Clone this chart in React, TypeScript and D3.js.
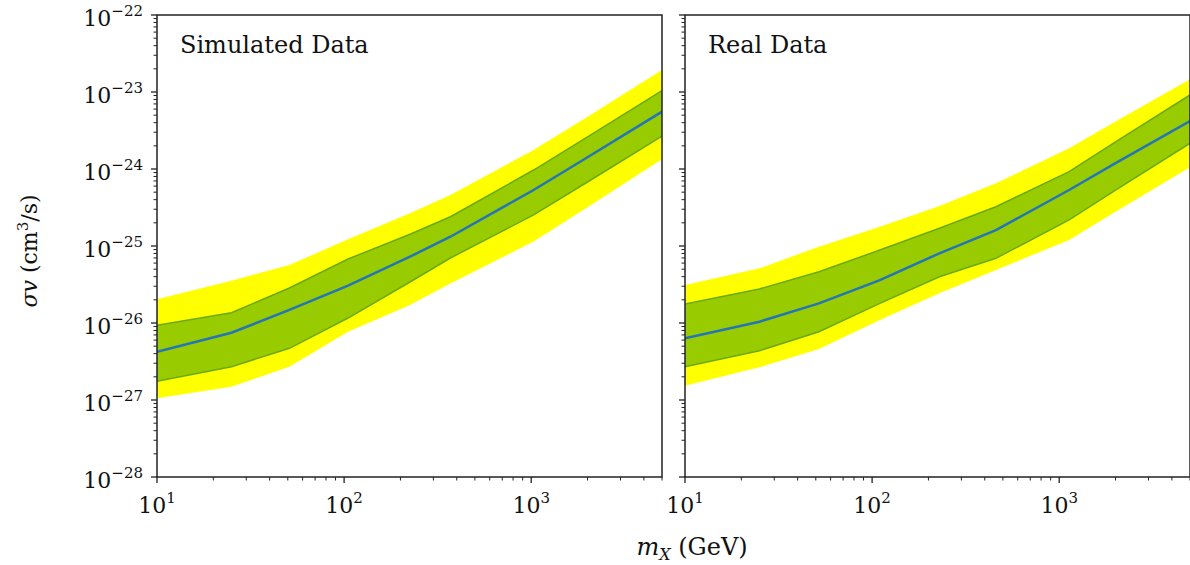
import React from "react";
import * as d3 from "d3";

// ---- data ----
const massSim = [10, 25, 51, 105, 225, 370, 1030, 2000, 5000];
const simYellowHi = [2.03e-26, 3.54e-26, 5.66e-26, 1.22e-25, 2.66e-25, 4.59e-25, 1.77e-24, 4.78e-24, 1.93e-23];
const simGreenHi = [9.33e-27, 1.36e-26, 2.85e-26, 6.78e-26, 1.42e-25, 2.4e-25, 9.7e-25, 2.61e-24, 1.04e-23];
const simMedian = [4.24e-27, 7.48e-27, 1.48e-26, 3.05e-26, 7.26e-26, 1.32e-25, 5.34e-25, 1.42e-24, 5.55e-24];
const simGreenLo = [1.75e-27, 2.71e-27, 4.69e-27, 1.16e-26, 3.41e-26, 6.98e-26, 2.53e-25, 6.78e-25, 2.68e-24];
const simYellowLo = [1.05e-27, 1.49e-27, 2.71e-27, 7.71e-27, 1.71e-26, 3.27e-26, 1.14e-25, 3.18e-25, 1.34e-24];

const massReal = [10, 25, 52, 110, 229, 459, 1130, 2000, 5000];
const realYellowHi = [3.12e-26, 5.13e-26, 9.8e-26, 1.78e-25, 3.31e-25, 6.52e-25, 1.86e-24, 4.15e-24, 1.46e-23];
const realGreenHi = [1.77e-26, 2.77e-26, 4.63e-26, 8.87e-26, 1.7e-25, 3.24e-25, 9.23e-25, 2.25e-24, 9.14e-24];
const realMedian = [6.33e-27, 1.04e-26, 1.8e-26, 3.61e-26, 8.04e-26, 1.61e-25, 5.34e-25, 1.19e-24, 4.2e-24];
const realGreenLo = [2.71e-27, 4.37e-27, 7.71e-27, 1.8e-26, 3.99e-26, 6.92e-26, 2.18e-25, 5.32e-25, 2.16e-24];
const realYellowLo = [1.53e-27, 2.66e-27, 4.59e-27, 1.09e-26, 2.43e-26, 4.88e-26, 1.2e-25, 2.79e-25, 1.05e-24];

const panelTitles = ["Simulated Data", "Real Data"];
const xMajorExps = [1, 2, 3];
const yMajorExps = [-28, -27, -26, -25, -24, -23, -22];
const xDomain = [10, 5000];
const yDomain = [1e-28, 1e-22];

// ---- layout ----
const W = 1190;
const H = 565;
const top = 15;
const bottom = 477;
const panelW = 505;
const panelLefts = [157, 685];
const FONT = "'DejaVu Serif', serif";
const YELLOW = "#ffff00";
const GREEN = "#99cc00";
const GREEN_EDGE = "#6aaa10";
const BLUE = "#2475b8";
const AXIS = "#222";

const yScale = d3.scaleLog().domain(yDomain).range([bottom, top]);

function Pow({ base, exp, ...rest }: any) {
  return (
    <text {...rest} fontFamily={FONT} fill="#111">
      <tspan fontSize={22}>{base}</tspan>
      <tspan fontSize={15} dy={-10}>{exp}</tspan>
    </text>
  );
}

function Panel({ idx, mass, yHi, gHi, med, gLo, yLo }: any) {
  const x0 = panelLefts[idx];
  const xScale = d3.scaleLog().domain(xDomain).range([x0, x0 + panelW]);
  const rows = mass.map((m: number, i: number) => ({ m, yHi: yHi[i], gHi: gHi[i], med: med[i], gLo: gLo[i], yLo: yLo[i] }));
  const areaY = d3.area<any>().x((d) => xScale(d.m)).y0((d) => yScale(d.yLo)).y1((d) => yScale(d.yHi));
  const areaG = d3.area<any>().x((d) => xScale(d.m)).y0((d) => yScale(d.gLo)).y1((d) => yScale(d.gHi));
  const lineHi = d3.line<any>().x((d) => xScale(d.m)).y((d) => yScale(d.gHi));
  const lineLo = d3.line<any>().x((d) => xScale(d.m)).y((d) => yScale(d.gLo));
  const lineMed = d3.line<any>().x((d) => xScale(d.m)).y((d) => yScale(d.med));

  const xMinor: number[] = [];
  for (let e = 1; e <= 3; e++) for (let k = 2; k <= 9; k++) {
    const v = k * Math.pow(10, e);
    if (v <= xDomain[1]) xMinor.push(v);
  }
  const yMinor: number[] = [];
  for (let e = -28; e < -22; e++) for (let k = 2; k <= 9; k++) yMinor.push(k * Math.pow(10, e));

  const clipId = `clip${idx}`;
  return (
    <g>
      <defs>
        <clipPath id={clipId}>
          <rect x={x0} y={top} width={panelW} height={bottom - top} />
        </clipPath>
      </defs>
      <g clipPath={`url(#${clipId})`}>
        <path d={areaY(rows) || ""} fill={YELLOW} />
        <path d={areaG(rows) || ""} fill={GREEN} />
        <path d={lineHi(rows) || ""} fill="none" stroke={GREEN_EDGE} strokeWidth={1.5} />
        <path d={lineLo(rows) || ""} fill="none" stroke={GREEN_EDGE} strokeWidth={1.5} />
        <path d={lineMed(rows) || ""} fill="none" stroke={BLUE} strokeWidth={2.5} />
      </g>
      {xMajorExps.map((e) => {
        const x = xScale(Math.pow(10, e));
        return (
          <g key={"xm" + e}>
            <line x1={x} x2={x} y1={bottom} y2={bottom + 6} stroke={AXIS} strokeWidth={1.3} />
            <Pow x={x} y={513} textAnchor="middle" base="10" exp={String(e)} />
          </g>
        );
      })}
      {xMinor.map((v) => (
        <line key={"xn" + v} x1={xScale(v)} x2={xScale(v)} y1={bottom} y2={bottom + 3.5} stroke={AXIS} strokeWidth={1} />
      ))}
      {yMajorExps.map((e) => {
        const y = yScale(Math.pow(10, e));
        return (
          <g key={"ym" + e}>
            <line x1={x0 - 6} x2={x0} y1={y} y2={y} stroke={AXIS} strokeWidth={1.3} />
            {idx === 0 && (
              <Pow x={143} y={y + 11} textAnchor="end" base="10" exp={"\u2212" + String(-e)} />
            )}
          </g>
        );
      })}
      {yMinor.map((v) => (
        <line key={"yn" + v} x1={x0 - 3.5} x2={x0} y1={yScale(v)} y2={yScale(v)} stroke={AXIS} strokeWidth={1} />
      ))}
      <rect x={x0} y={top} width={panelW} height={bottom - top} fill="none" stroke={AXIS} strokeWidth={1.5} />
      <text x={x0 + 23} y={53} fontFamily={FONT} fontSize={24} fill="#111">
        {panelTitles[idx]}
      </text>
    </g>
  );
}

export default function App() {
  return (
    <svg width={W} height={H} style={{ position: "absolute", left: 0, top: 0, background: "#fff" }}>
      <rect x={0} y={0} width={W} height={H} fill="#fff" />
      <Panel idx={0} mass={massSim} yHi={simYellowHi} gHi={simGreenHi} med={simMedian} gLo={simGreenLo} yLo={simYellowLo} />
      <Panel idx={1} mass={massReal} yHi={realYellowHi} gHi={realGreenHi} med={realMedian} gLo={realGreenLo} yLo={realYellowLo} />
      <text transform="translate(37,251) rotate(-90)" textAnchor="middle" fontFamily={FONT} fontSize={22} fill="#111">
        <tspan fontStyle="italic">σv</tspan>
        <tspan> (cm</tspan>
        <tspan fontSize={15} dy={-9}>3</tspan>
        <tspan dy={9}>/s)</tspan>
      </text>
      <text x={692} y={555} textAnchor="middle" fontFamily={FONT} fontSize={24} fill="#111">
        <tspan fontStyle="italic">m</tspan>
        <tspan fontStyle="italic" fontSize={16} dy={5}>X</tspan>
        <tspan dy={-5}> (GeV)</tspan>
      </text>
    </svg>
  );
}
